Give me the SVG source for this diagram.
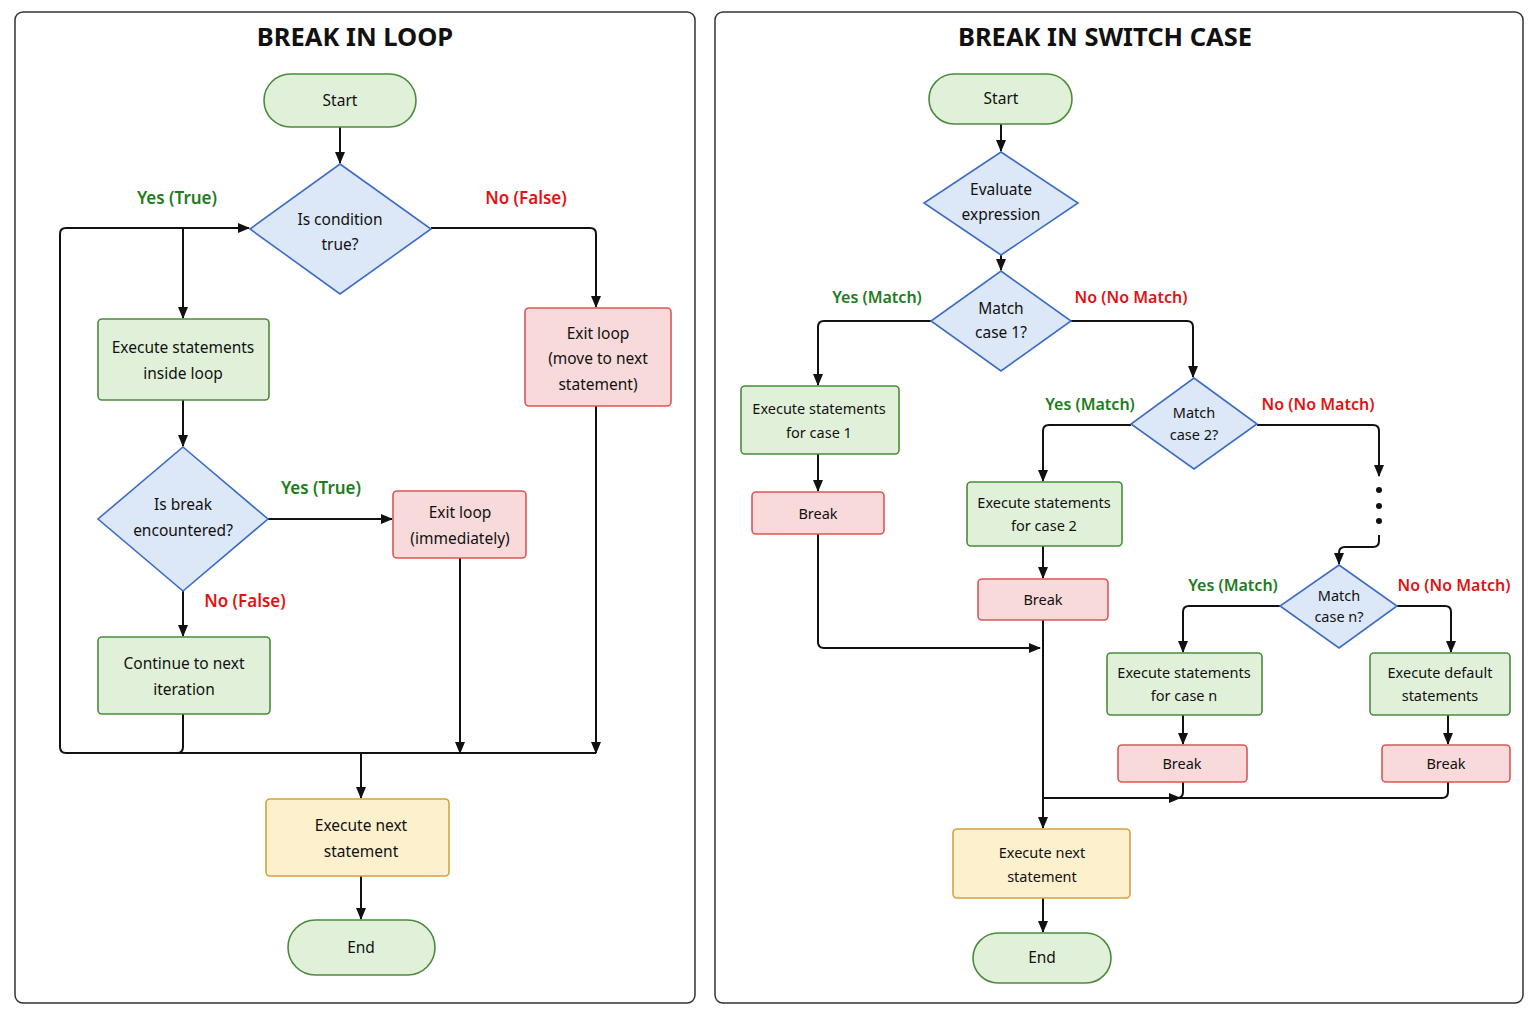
<svg xmlns="http://www.w3.org/2000/svg" width="1536" height="1024" viewBox="0 0 1536 1024">
<defs>
<marker id="ah" markerWidth="12" markerHeight="10" refX="11" refY="5" orient="auto" markerUnits="userSpaceOnUse">
<path d="M0,0 L12,5 L0,10 z" fill="#111"/>
</marker>
<style>
.panel{fill:#fff;stroke:#333;stroke-width:1.5}
.title{font-family:"Noto Sans","Liberation Sans",sans-serif;font-weight:bold;font-size:25.5px;fill:#111;text-anchor:middle}
.t{font-family:"Noto Sans","Liberation Sans",sans-serif;font-size:15.5px;fill:#111;text-anchor:middle}
.ts{font-family:"Noto Sans","Liberation Sans",sans-serif;font-size:14.5px;fill:#111;text-anchor:middle}
.green{fill:#e1f1d9;stroke:#4b8b3b;stroke-width:1.6}
.blue{fill:#dce7f8;stroke:#3c6cc5;stroke-width:1.6}
.red{fill:#f8dada;stroke:#d95757;stroke-width:1.6}
.yellow{fill:#fdf0cc;stroke:#d3a33c;stroke-width:1.6}
.yes{font-family:"Noto Sans","Liberation Sans",sans-serif;font-weight:600;font-size:17px;fill:#1b7d1b;text-anchor:middle}
.no{font-family:"Noto Sans","Liberation Sans",sans-serif;font-weight:600;font-size:17px;fill:#e31212;text-anchor:middle}
.yes2{font-family:"Noto Sans","Liberation Sans",sans-serif;font-weight:600;font-size:16px;fill:#1b7d1b;text-anchor:middle}
.no2{font-family:"Noto Sans","Liberation Sans",sans-serif;font-weight:600;font-size:16px;fill:#e31212;text-anchor:middle}
.c{fill:none;stroke:#111;stroke-width:2;stroke-linejoin:round}
.ca{fill:none;stroke:#111;stroke-width:2;stroke-linejoin:round;marker-end:url(#ah)}
</style>
</defs>
<rect width="1536" height="1024" fill="#fff"/>
<rect class="panel" x="15" y="12" width="680" height="991" rx="8"/>
<rect class="panel" x="715" y="12" width="808" height="991" rx="8"/>
<text class="title" x="355" y="46">BREAK IN LOOP</text>
<text class="title" x="1105" y="46">BREAK IN SWITCH CASE</text>

<g id="connectors">
<!-- left -->
<path class="ca" d="M340,127 V163"/>
<path class="ca" d="M183,753 H66 Q60,753 60,747 V234 Q60,228 66,228 H249"/>
<path class="ca" d="M183,228 V318"/>
<path class="ca" d="M431,228 H590 Q596,228 596,234 V307"/>
<path class="ca" d="M183,400 V446"/>
<path class="ca" d="M268,519 H392"/>
<path class="ca" d="M183,591 V636"/>
<path class="c" d="M183,714 V747 Q183,753 177,753"/>
<path class="c" d="M183,753 H596"/>
<path class="ca" d="M460,558 V753"/>
<path class="ca" d="M596,406 V753"/>
<path class="ca" d="M361,753 V798"/>
<path class="ca" d="M361,876 V919"/>
<!-- right -->
<path class="ca" d="M1001,124 V151"/>
<path class="ca" d="M1001,255 V270"/>
<path class="ca" d="M931,321 H824 Q818,321 818,327 V385"/>
<path class="ca" d="M1071,321 H1187 Q1193,321 1193,327 V377"/>
<path class="ca" d="M818,454 V491"/>
<path class="ca" d="M818,534 V642 Q818,648 824,648 H1040"/>
<path class="ca" d="M1131,425 H1049 Q1043,425 1043,431 V481"/>
<path class="ca" d="M1257,425 H1373 Q1379,425 1379,431 V476"/>
<circle cx="1379" cy="490" r="3" fill="#111"/>
<circle cx="1379" cy="506" r="3" fill="#111"/>
<circle cx="1379" cy="521" r="3" fill="#111"/>
<path class="ca" d="M1379,535 V541 Q1379,547 1373,547 H1345 Q1339,547 1339,553 V564"/>
<path class="ca" d="M1043,546 V578"/>
<path class="ca" d="M1043,620 V828"/>
<path class="ca" d="M1280,606 H1189 Q1183,606 1183,612 V652"/>
<path class="ca" d="M1397,606 H1445 Q1451,606 1451,612 V652"/>
<path class="ca" d="M1183,715 V744"/>
<path class="ca" d="M1448,715 V744"/>
<path class="c" d="M1448,782 V792 Q1448,798 1442,798 H1043"/>
<path class="c" d="M1183,782 V792 Q1183,798 1177,798"/>
<path class="ca" d="M1043,798 H1180"/>
<path class="ca" d="M1043,898 V932"/>
</g>

<!-- LEFT nodes -->
<g id="l-start"><rect class="green" x="264" y="74" width="152" height="53" rx="26.5"/><text class="t" x="340" y="106">Start</text></g>
<g id="l-cond"><polygon class="blue" points="340,164 431,229 340,294 250,229"/><text class="t" x="340" y="225">Is condition</text><text class="t" x="340" y="250">true?</text></g>
<text class="yes" x="177" y="204">Yes (True)</text>
<text class="no" x="526" y="204">No (False)</text>
<g id="l-exec"><rect class="green" x="98" y="319" width="171" height="81" rx="4"/><text class="t" x="183" y="353">Execute statements</text><text class="t" x="183" y="379">inside loop</text></g>
<g id="l-exit1"><rect class="red" x="525" y="308" width="146" height="98" rx="4"/><text class="t" x="598" y="339">Exit loop</text><text class="t" x="598" y="364">(move to next</text><text class="t" x="598" y="390">statement)</text></g>
<g id="l-break"><polygon class="blue" points="183,447 268,519 183,591 98,519"/><text class="t" x="183" y="510">Is break</text><text class="t" x="183" y="536">encountered?</text></g>
<text class="yes" x="321" y="494">Yes (True)</text>
<text class="no" x="245" y="607">No (False)</text>
<g id="l-exit2"><rect class="red" x="393" y="491" width="133" height="67" rx="4"/><text class="t" x="460" y="518">Exit loop</text><text class="t" x="460" y="544">(immediately)</text></g>
<g id="l-cont"><rect class="green" x="98" y="637" width="172" height="77" rx="4"/><text class="t" x="184" y="669">Continue to next</text><text class="t" x="184" y="695">iteration</text></g>
<g id="l-next"><rect class="yellow" x="266" y="799" width="183" height="77" rx="4"/><text class="t" x="361" y="831">Execute next</text><text class="t" x="361" y="857">statement</text></g>
<g id="l-end"><rect class="green" x="288" y="920" width="147" height="55" rx="27.5"/><text class="t" x="361" y="953">End</text></g>

<!-- RIGHT nodes -->
<g id="r-start"><rect class="green" x="929" y="74" width="143" height="50" rx="25"/><text class="t" x="1001" y="104">Start</text></g>
<g id="r-eval"><polygon class="blue" points="1001,152 1078,203 1001,255 924,203"/><text class="t" x="1001" y="195">Evaluate</text><text class="t" x="1001" y="220">expression</text></g>
<g id="r-m1"><polygon class="blue" points="1001,271 1071,321 1001,371 931,321"/><text class="t" x="1001" y="314">Match</text><text class="t" x="1001" y="338">case 1?</text></g>
<text class="yes2" x="877" y="303">Yes (Match)</text>
<text class="no2" x="1131" y="303">No (No Match)</text>
<g id="r-e1"><rect class="green" x="741" y="386" width="158" height="68" rx="4"/><text class="ts" x="819" y="414">Execute statements</text><text class="ts" x="819" y="438">for case 1</text></g>
<g id="r-b1"><rect class="red" x="752" y="492" width="132" height="42" rx="4"/><text class="ts" x="818" y="519">Break</text></g>
<g id="r-m2"><polygon class="blue" points="1194,378 1257,424 1194,469 1131,424"/><text class="ts" x="1194" y="418">Match</text><text class="ts" x="1194" y="440">case 2?</text></g>
<text class="yes2" x="1090" y="410">Yes (Match)</text>
<text class="no2" x="1318" y="410">No (No Match)</text>
<g id="r-e2"><rect class="green" x="967" y="482" width="155" height="64" rx="4"/><text class="ts" x="1044" y="508">Execute statements</text><text class="ts" x="1044" y="531">for case 2</text></g>
<g id="r-b2"><rect class="red" x="978" y="579" width="130" height="41" rx="4"/><text class="ts" x="1043" y="605">Break</text></g>
<g id="r-mn"><polygon class="blue" points="1339,565 1397,606 1339,648 1280,606"/><text class="ts" x="1339" y="601">Match</text><text class="ts" x="1339" y="622">case n?</text></g>
<text class="yes2" x="1233" y="591">Yes (Match)</text>
<text class="no2" x="1454" y="591">No (No Match)</text>
<g id="r-en"><rect class="green" x="1107" y="653" width="155" height="62" rx="4"/><text class="ts" x="1184" y="678">Execute statements</text><text class="ts" x="1184" y="701">for case n</text></g>
<g id="r-bn"><rect class="red" x="1118" y="745" width="129" height="37" rx="4"/><text class="ts" x="1182" y="769">Break</text></g>
<g id="r-ed"><rect class="green" x="1370" y="653" width="140" height="62" rx="4"/><text class="ts" x="1440" y="678">Execute default</text><text class="ts" x="1440" y="701">statements</text></g>
<g id="r-bd"><rect class="red" x="1382" y="745" width="128" height="37" rx="4"/><text class="ts" x="1446" y="769">Break</text></g>
<g id="r-next"><rect class="yellow" x="953" y="829" width="177" height="69" rx="4"/><text class="ts" x="1042" y="858">Execute next</text><text class="ts" x="1042" y="882">statement</text></g>
<g id="r-end"><rect class="green" x="973" y="933" width="138" height="50" rx="25"/><text class="t" x="1042" y="963">End</text></g>
</svg>
